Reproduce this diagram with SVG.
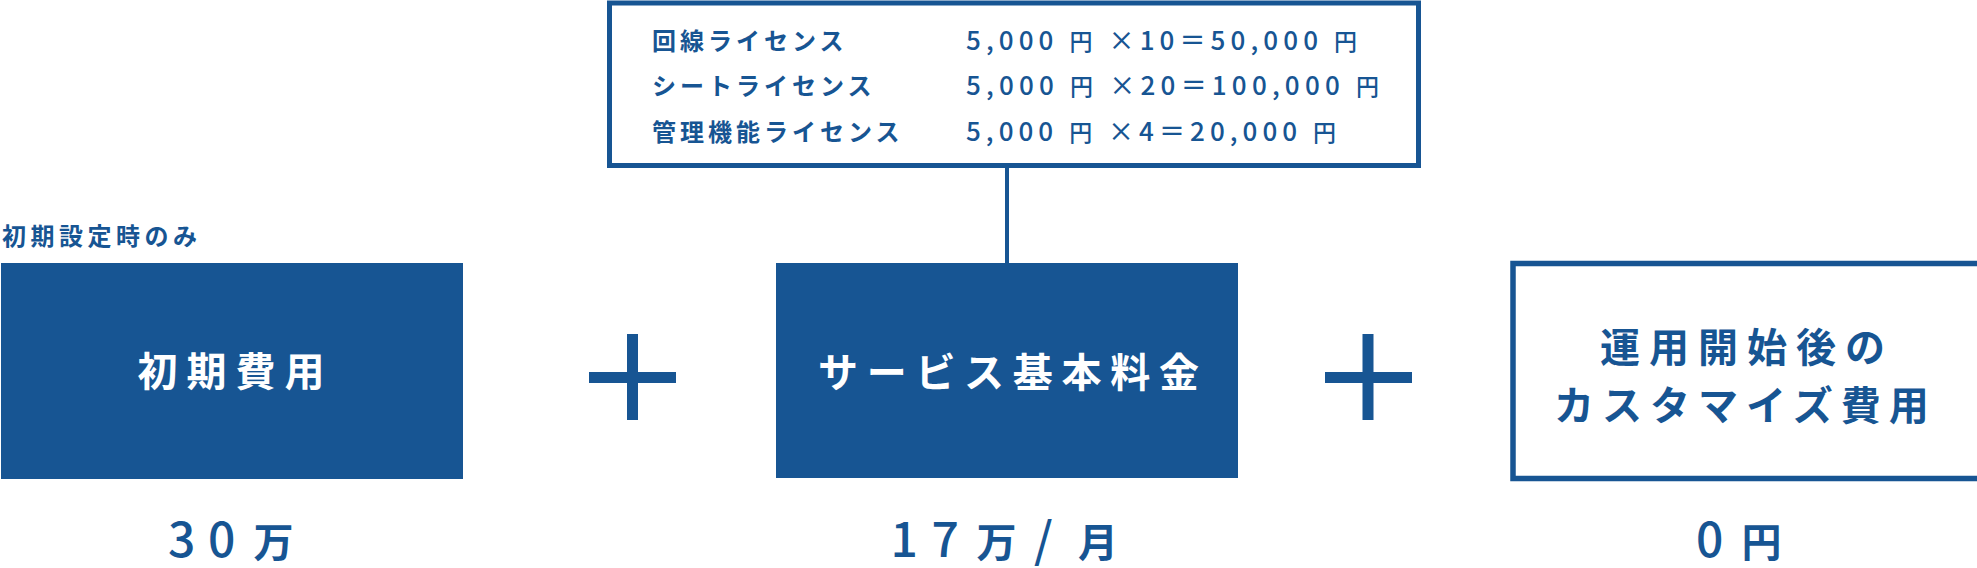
<svg xmlns="http://www.w3.org/2000/svg" width="1977" height="568" viewBox="0 0 1977 568">
<style>
text{font-family:"Noto Sans CJK JP","Noto Sans CJK SC",sans-serif;font-weight:700}
.fill{fill:#175593}
.frame{fill:#ffffff;stroke:#175593;stroke-width:5}
.w{fill:#ffffff;font-size:40px}
.row{font-size:24px;letter-spacing:4px;fill:#175593}
.num{font-size:26px;fill:#175593;font-weight:500}
.num .k{font-size:23px}
.lab{font-size:24px;letter-spacing:4.5px;fill:#175593}
.val{font-size:40px;fill:#175593}
.val .d{font-size:48px;font-weight:500}
</style>
<rect width="1977" height="568" fill="#ffffff"/>
<g id="connectors">
<line x1="1007" y1="166" x2="1007" y2="264" stroke="#175593" stroke-width="4"/>
</g>
<g id="license-box">
<rect class="frame" x="609.5" y="3" width="809" height="162.5"/>
<text class="row" x="652" y="49.5">回線ライセンス</text>
<text class="row" x="652" y="95">シートライセンス</text>
<text class="row" x="652" y="140.5">管理機能ライセンス</text>
<text class="num" x="966" y="49.5" textLength="391" lengthAdjust="spacing">5,000 <tspan class="k">円</tspan> ×10＝50,000 <tspan class="k">円</tspan></text>
<text class="num" x="966" y="95" textLength="413" lengthAdjust="spacing">5,000 <tspan class="k">円</tspan> ×20＝100,000 <tspan class="k">円</tspan></text>
<text class="num" x="966" y="140.5" textLength="370" lengthAdjust="spacing">5,000 <tspan class="k">円</tspan> ×4＝20,000 <tspan class="k">円</tspan></text>
</g>
<g id="initial-note">
<text class="lab" x="2" y="245">初期設定時のみ</text>
</g>
<g id="initial-cost">
<rect class="fill" x="1" y="263" width="462" height="216"/>
<text class="w" x="137.5" y="386" letter-spacing="9">初期費用</text>
<text class="val" y="557"><tspan class="d" x="168">3</tspan><tspan class="d" x="208">0</tspan><tspan x="253.5">万</tspan></text>
</g>
<g id="plus-1">
<rect class="fill" x="627" y="334" width="11" height="86"/>
<rect class="fill" x="589" y="372" width="87" height="11"/>
</g>
<g id="service-fee">
<rect class="fill" x="776" y="263" width="462" height="215"/>
<text class="w" x="818" y="387" letter-spacing="8.7">サービス基本料金</text>
<text class="val" y="557"><tspan class="d" x="890.5">1</tspan><tspan class="d" x="931.5">7</tspan><tspan x="976.5">万</tspan><tspan class="d" x="1034">/</tspan><tspan x="1078">月</tspan></text>
</g>
<g id="plus-2">
<rect class="fill" x="1362.5" y="334" width="11" height="86"/>
<rect class="fill" x="1325" y="372" width="87" height="11"/>
</g>
<g id="custom-cost">
<rect class="frame" x="1513" y="263.5" width="1461.5" height="215" style="stroke-width:5.5"/>
<text class="val" x="1600" y="362" letter-spacing="9">運用開始後の</text>
<text class="val" x="1554" y="420" letter-spacing="8">カスタマイズ費用</text>
<text class="val" y="557"><tspan class="d" x="1696">0</tspan><tspan x="1741.5">円</tspan></text>
</g>
</svg>
